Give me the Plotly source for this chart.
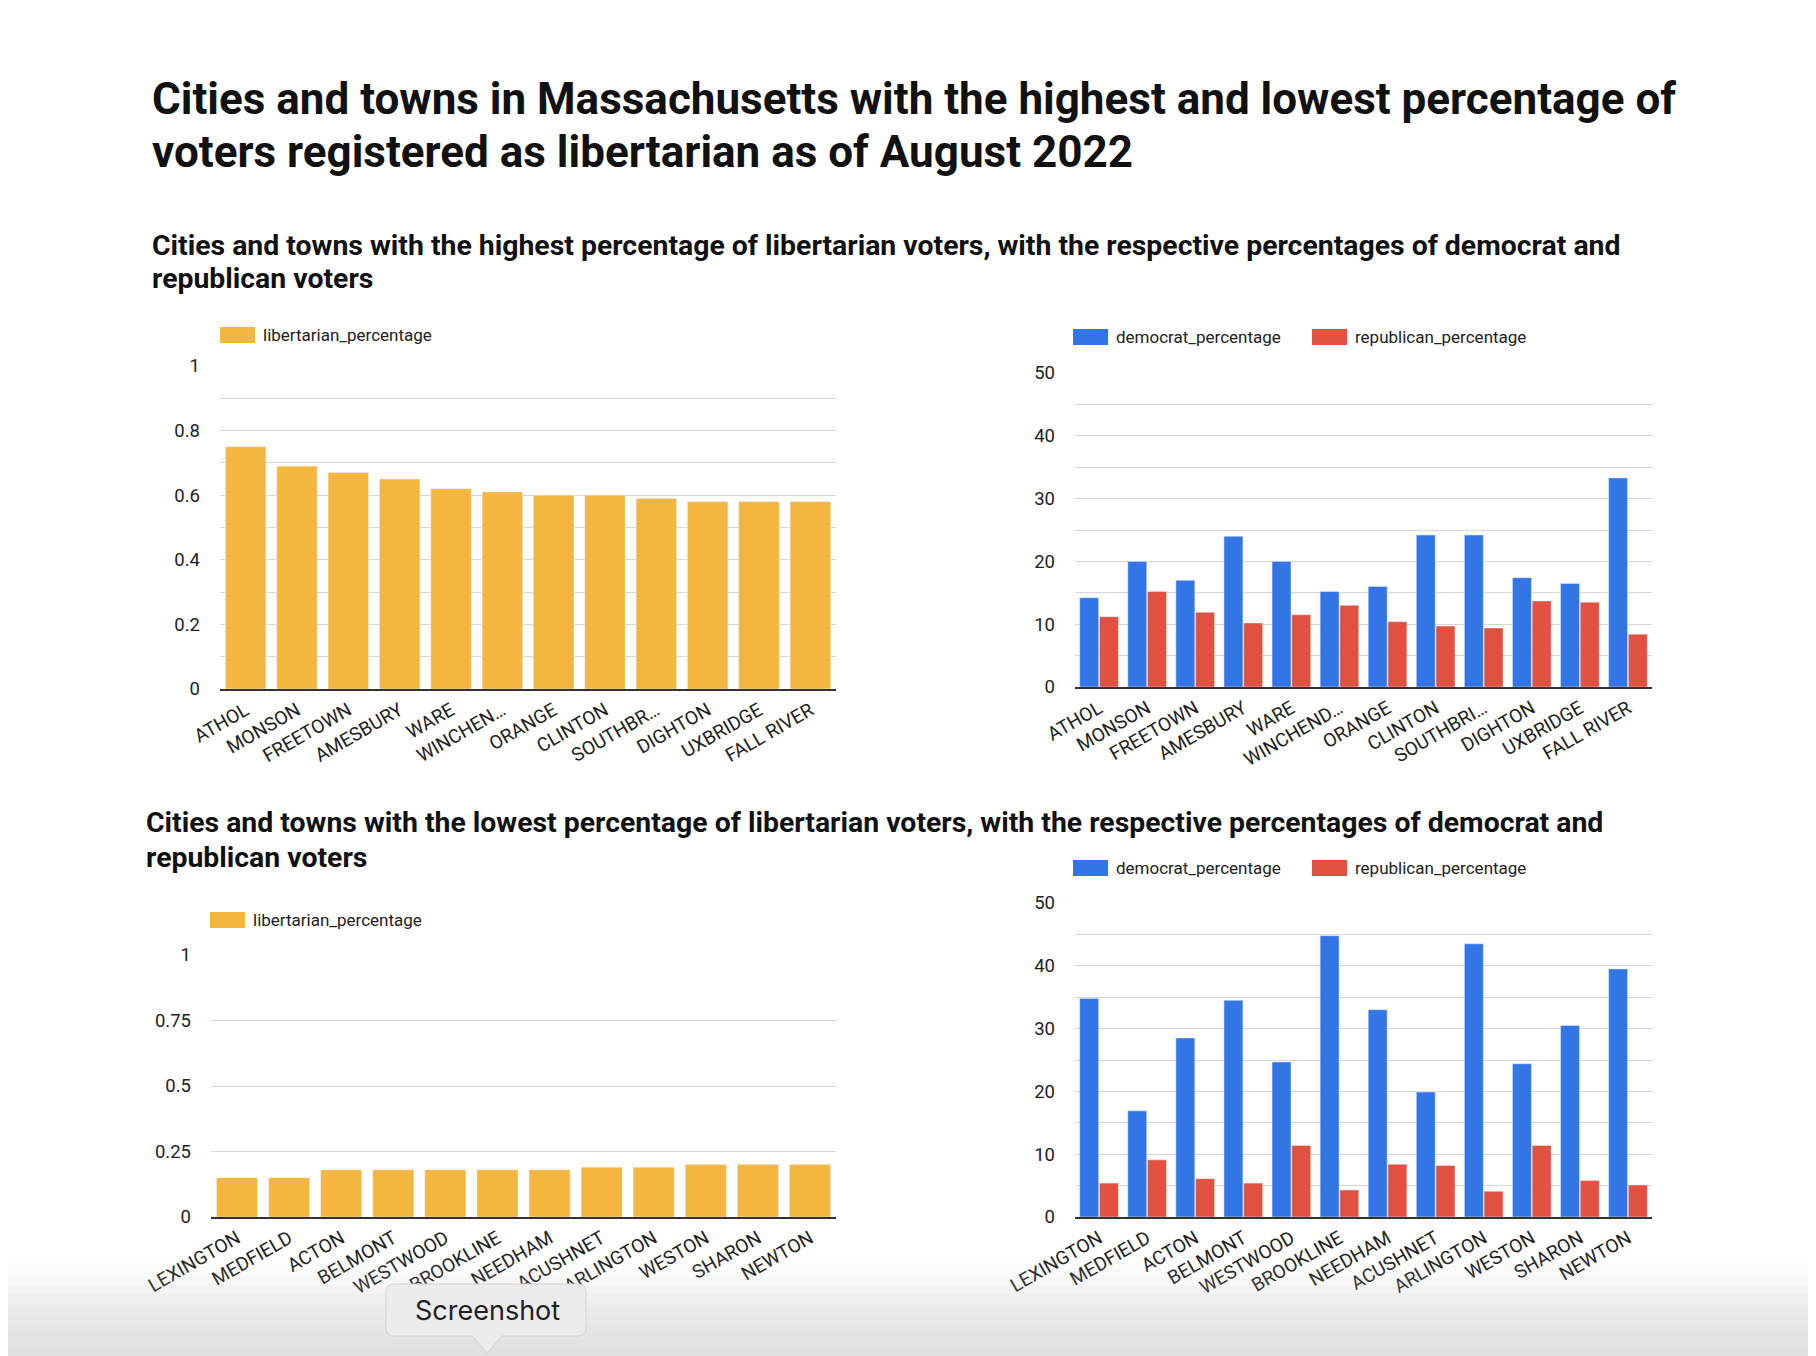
import plotly.graph_objects as go

W, H = 1816, 1356
OFF = 8  # page body margin

# ---------------- data ----------------
top_towns_lib = ["ATHOL", "MONSON", "FREETOWN", "AMESBURY", "WARE", "WINCHEN…",
                 "ORANGE", "CLINTON", "SOUTHBR…", "DIGHTON", "UXBRIDGE", "FALL RIVER"]
top_lib_pct = [0.75, 0.69, 0.67, 0.65, 0.62, 0.61, 0.60, 0.60, 0.59, 0.58, 0.58, 0.58]

top_towns_party = ["ATHOL", "MONSON", "FREETOWN", "AMESBURY", "WARE", "WINCHEND…",
                   "ORANGE", "CLINTON", "SOUTHBRI…", "DIGHTON", "UXBRIDGE", "FALL RIVER"]
top_dem_pct = [14.2, 20.0, 17.0, 24.0, 20.0, 15.2, 16.0, 24.2, 24.2, 17.4, 16.5, 33.3]
top_rep_pct = [11.2, 15.2, 11.9, 10.2, 11.5, 13.0, 10.4, 9.7, 9.4, 13.7, 13.5, 8.4]

low_towns = ["LEXINGTON", "MEDFIELD", "ACTON", "BELMONT", "WESTWOOD", "BROOKLINE",
             "NEEDHAM", "ACUSHNET", "ARLINGTON", "WESTON", "SHARON", "NEWTON"]
low_lib_pct = [0.15, 0.15, 0.18, 0.18, 0.18, 0.18, 0.18, 0.19, 0.19, 0.20, 0.20, 0.20]
low_dem_pct = [34.8, 16.9, 28.5, 34.5, 24.7, 44.8, 33.0, 19.9, 43.5, 24.4, 30.5, 39.5]
low_rep_pct = [5.4, 9.1, 6.1, 5.4, 11.4, 4.3, 8.4, 8.2, 4.1, 11.4, 5.8, 5.1]

title_lines = ["Cities and towns in Massachusetts with the highest and lowest percentage of",
               "voters registered as libertarian as of August 2022"]
sub1_lines = ["Cities and towns with the highest percentage of libertarian voters, with the "
              "respective percentages of democrat and", "republican voters"]
sub2_lines = ["Cities and towns with the lowest percentage of libertarian voters, with the "
              "respective percentages of democrat and", "republican voters"]

YELLOW = "#F4B63F"
BLUE = "#3374E6"
RED = "#E1513F"
FONT = "Roboto, Arial, sans-serif"
TXT = "#222222"
GRID = "#D6D6D6"


def px(x):
    return (x - OFF) / W


def py(y):
    return 1 - (y - OFF) / H


fig = go.Figure()

fig.add_trace(go.Bar(x=top_towns_lib, y=top_lib_pct, name="libertarian_percentage",
                     marker_color=YELLOW, xaxis="x", yaxis="y", showlegend=False))
fig.add_trace(go.Bar(x=top_towns_party, y=top_dem_pct, name="democrat_percentage",
                     marker_color=BLUE, xaxis="x2", yaxis="y2", showlegend=False))
fig.add_trace(go.Bar(x=top_towns_party, y=top_rep_pct, name="republican_percentage",
                     marker_color=RED, xaxis="x2", yaxis="y2", showlegend=False))
fig.add_trace(go.Bar(x=low_towns, y=low_lib_pct, name="libertarian_percentage",
                     marker_color=YELLOW, xaxis="x3", yaxis="y3", showlegend=False))
fig.add_trace(go.Bar(x=low_towns, y=low_dem_pct, name="democrat_percentage",
                     marker_color=BLUE, xaxis="x4", yaxis="y4", showlegend=False))
fig.add_trace(go.Bar(x=low_towns, y=low_rep_pct, name="republican_percentage",
                     marker_color=RED, xaxis="x4", yaxis="y4", showlegend=False))

ytickfont = dict(family=FONT, size=18.5, color=TXT)
xtickfont = dict(family=FONT, size=19, color=TXT)


def xax(domain, anchor):
    return dict(domain=domain, anchor=anchor, type="category", tickangle=-30,
                tickfont=xtickfont, showgrid=False, showline=True, linecolor="#333333",
                linewidth=2, ticks="", fixedrange=True, automargin=False,
                ticklabelstandoff=1)


def yax(domain, anchor, rng, dtick, minor=None):
    d = dict(domain=domain, anchor=anchor, range=rng, dtick=dtick, tickfont=ytickfont,
             showgrid=True, gridcolor=GRID, gridwidth=1, zeroline=False, showline=False,
             ticks="", ticklen=0, fixedrange=True, automargin=False, ticklabelstandoff=19)
    if minor:
        d["minor"] = dict(dtick=minor, showgrid=True, gridcolor=GRID, gridwidth=1)
    return d


fig.update_layout(
    width=W, height=H,
    margin=dict(l=0, r=0, t=0, b=0, pad=0, autoexpand=False),
    paper_bgcolor="white", plot_bgcolor="white",
    barmode="group", bargap=0.18, bargroupgap=0.04,
    font=dict(family=FONT, color=TXT),
    xaxis=xax([px(220), px(836)], "y"),
    yaxis=yax([py(689), py(366)], "x", [0, 1], 0.2, 0.1),
    xaxis2=xax([px(1075), px(1652)], "y2"),
    yaxis2=yax([py(687), py(373)], "x2", [0, 50], 10, 5),
    xaxis3=xax([px(211), px(836)], "y3"),
    yaxis3=yax([py(1217), py(955)], "x3", [0, 1], 0.25),
    xaxis4=xax([px(1075), px(1652)], "y4"),
    yaxis4=yax([py(1217), py(903)], "x4", [0, 50], 10, 5),
)

ann = []
shapes = []


def text_line(txt, x, yc, size):
    ann.append(dict(text="<b>" + txt + "</b>", x=px(x), y=py(yc), xref="paper", yref="paper",
                    xanchor="left", yanchor="middle", align="left", showarrow=False,
                    font=dict(family=FONT, size=size, color="#111111")))


# titles (one annotation per line to control line spacing)
text_line(title_lines[0], 150, 99, 44)
text_line(title_lines[1], 150, 152, 44)
text_line(sub1_lines[0], 150, 245, 28.4)
text_line(sub1_lines[1], 150, 279, 28.4)
text_line(sub2_lines[0], 144, 823, 28.4)
text_line(sub2_lines[1], 144, 857, 28.4)


# manual legends
def legend_item(x0, yc, color, label):
    shapes.append(dict(type="rect", xref="paper", yref="paper",
                       x0=px(x0), x1=px(x0 + 35), y0=py(yc + 8), y1=py(yc - 8),
                       fillcolor=color, line=dict(width=0)))
    ann.append(dict(text=label, x=px(x0 + 41), y=py(yc), xref="paper", yref="paper",
                    xanchor="left", yanchor="middle", showarrow=False,
                    font=dict(family=FONT, size=17, color=TXT)))


legend_item(220, 335, YELLOW, "libertarian_percentage")
legend_item(1073, 337, BLUE, "democrat_percentage")
legend_item(1312, 337, RED, "republican_percentage")
legend_item(210, 920, YELLOW, "libertarian_percentage")
legend_item(1073, 868, BLUE, "democrat_percentage")
legend_item(1312, 868, RED, "republican_percentage")

# bottom screenshot overlay (gradient-ish band)
band_top = 1262
steps = 12
for i in range(steps):
    y0 = band_top + i * (H - band_top) / steps
    shapes.append(dict(type="rect", xref="paper", yref="paper", layer="above",
                       x0=px(0), x1=px(W + OFF), y0=py(H + OFF), y1=py(y0),
                       fillcolor="rgba(205,205,205,0.05)", line=dict(width=0)))

# tooltip (rounded box with pointer)
bx0, bx1, by0, by1, r = 386, 586, 1284, 1336, 8
tip_x, tip_y, half = 487, 1353, 15
path = (f"M {px(bx0 + r)},{py(by0)} L {px(bx1 - r)},{py(by0)} "
        f"Q {px(bx1)},{py(by0)} {px(bx1)},{py(by0 + r)} "
        f"L {px(bx1)},{py(by1 - r)} Q {px(bx1)},{py(by1)} {px(bx1 - r)},{py(by1)} "
        f"L {px(tip_x + half)},{py(by1)} L {px(tip_x)},{py(tip_y)} L {px(tip_x - half)},{py(by1)} "
        f"L {px(bx0 + r)},{py(by1)} Q {px(bx0)},{py(by1)} {px(bx0)},{py(by1 - r)} "
        f"L {px(bx0)},{py(by0 + r)} Q {px(bx0)},{py(by0)} {px(bx0 + r)},{py(by0)} Z")
shapes.append(dict(type="path", xref="paper", yref="paper", layer="above", path=path,
                   fillcolor="#ECECEE", line=dict(color="#D2D2D4", width=1)))
ann.append(dict(text="Screenshot", x=px(487), y=py(1310), xref="paper", yref="paper",
                xanchor="center", yanchor="middle", showarrow=False,
                font=dict(family="Inter, Roboto, sans-serif", size=27, color="#222222")))

fig.update_layout(annotations=ann, shapes=shapes)

fig.write_html("out.html")
